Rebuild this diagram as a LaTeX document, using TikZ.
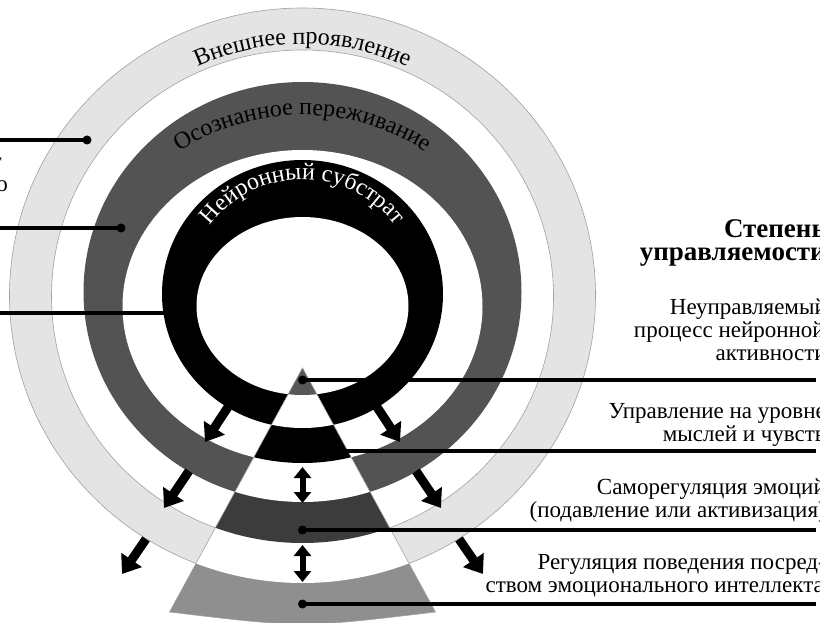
\documentclass[tikz,border=0pt]{standalone}
\usepackage{fontspec}
\setmainfont{Liberation Serif}
\usetikzlibrary{arrows.meta,decorations.text}
\definecolor{lightring}{HTML}{E4E4E4}
\definecolor{ringedge}{HTML}{A0A0A0}
\definecolor{darkring}{HTML}{535353}
\definecolor{wedgedark}{HTML}{3C3C3C}
\definecolor{wedgemid}{HTML}{8F8F8F}
\definecolor{apexgray}{HTML}{585858}
\newcommand{\ringfnt}{\fontsize{24}{24}\selectfont}
\begin{document}
\begin{tikzpicture}[x=1pt,y=1pt,
  leader/.style={line width=3.2pt},
  dotmark/.style={circle,fill=black,inner sep=0pt,minimum size=9pt},
  rlabel/.style={anchor=base east,inner sep=0pt,font=\fontsize{23}{23}\selectfont},
  blabel/.style={anchor=base east,inner sep=0pt,font=\fontsize{27}{27}\selectfont\bfseries},
  outarrow/.style={line width=9pt,-{Triangle[width=24pt,length=17pt]}},
  twoarrow/.style={line width=6pt,{Triangle[width=17pt,length=11pt]}-{Triangle[width=17pt,length=11pt]}},
  ringtext/.style={decorate,decoration={text along path,text align=center,text={#1}}}
]
\useasboundingbox (0,0) rectangle (820,-623);
\coordinate (C) at (302.5,-296);
\coordinate (C2) at (302.5,-340);

% rings
\path[fill=lightring,draw=ringedge,line width=0.6pt] (302.5,-295.5) ellipse[x radius=293,y radius=287.5];
\path[fill=white,draw=ringedge,line width=0.6pt] (302.5,-296.5) ellipse[x radius=251,y radius=246.5];
\fill[darkring] (302.5,-292) ellipse[x radius=219,y radius=210];
\fill[white] (302.5,-306.5) ellipse[x radius=180,y radius=156.5];
\fill[black] (302.5,-294) ellipse[x radius=140.5,y radius=134];
\fill[white] (302.5,-306) ellipse[x radius=106,y radius=89];

% wedge
\coordinate (apex) at (302.5,-368);
\coordinate (wl) at (169.5,-612);
\coordinate (wr) at (435.5,-612);
\begin{scope}
\clip (apex) -- (wl) .. controls (302.5,-628) .. (wr) -- cycle;
\fill[wedgemid] (0,0) rectangle (820,-623);
\fill[white] (302.5,-295.5) ellipse[x radius=293,y radius=287.5];
\fill[wedgedark] (302.5,-296.5) ellipse[x radius=251,y radius=246.5];
\fill[white] (302.5,-292) ellipse[x radius=219,y radius=210];
\fill[black] (302.5,-306.5) ellipse[x radius=180,y radius=156.5];
\fill[white] (302.5,-294) ellipse[x radius=140.5,y radius=134];
\fill[apexgray] (302.5,-306) ellipse[x radius=106,y radius=89];
\end{scope}
\draw[ringedge,line width=0.5pt] (apex) -- (wl) .. controls (302.5,-628) .. (wr) -- cycle;

% ring texts
\path[ringtext={|\ringfnt|Внешнее проявление}] ([shift={(160:252)}]C) arc[start angle=160,end angle=20,radius=252];
\path[ringtext={|\ringfnt|Осознанное переживание}] ([shift={(160:225)}]C2) arc[start angle=160,end angle=20,radius=225];
\path[ringtext={|\color{white}\ringfnt|Нейронный субстрат}] ([shift={(170:116.5)}]C) arc[start angle=170,end angle=10,radius=116.5];

% outward arrows
\coordinate (a1s) at (230,-404); \coordinate (a1e) at (205,-442);
\coordinate (a2s) at (375,-404); \coordinate (a2e) at (400,-442);
\coordinate (a3s) at (189,-471); \coordinate (a3e) at (164,-508);
\coordinate (a4s) at (416,-471); \coordinate (a4e) at (441,-508);
\coordinate (a5s) at (146,-539); \coordinate (a5e) at (122,-574);
\coordinate (a6s) at (459,-539); \coordinate (a6e) at (483,-574);
\draw[outarrow] (a1s) -- (a1e);
\draw[outarrow] (a2s) -- (a2e);
\draw[outarrow] (a3s) -- (a3e);
\draw[outarrow] (a4s) -- (a4e);
\draw[outarrow] (a5s) -- (a5e);
\draw[outarrow] (a6s) -- (a6e);

% double arrows
\coordinate (b1t) at (302.5,-467); \coordinate (b1b) at (302.5,-503);
\coordinate (b2t) at (302.5,-545); \coordinate (b2b) at (302.5,-582);
\draw[twoarrow] (b1t) -- (b1b);
\draw[twoarrow] (b2t) -- (b2b);

% left leaders
\coordinate (l1) at (0,-140); \node[dotmark] (d1) at (87,-140) {};
\coordinate (l2) at (0,-228); \node[dotmark] (d2) at (121,-228) {};
\coordinate (l3) at (0,-313); \node[dotmark] (d3) at (180,-313) {};
\draw[leader] (l1) -- (d1.center);
\draw[leader] (l2) -- (d2.center);
\draw[leader] (l3) -- (d3.center);

% right leaders
\coordinate (r1) at (816,-380); \node[dotmark] (e1) at (302.5,-380) {};
\coordinate (r2) at (816,-451); \node[dotmark] (e2) at (302.5,-451) {};
\coordinate (r3) at (816,-530); \node[dotmark] (e3) at (302.5,-530) {};
\coordinate (r4) at (816,-604); \node[dotmark] (e4) at (302.5,-604) {};
\draw[leader] (e1.center) -- (r1);
\draw[leader] (e2.center) -- (r2);
\draw[leader] (e3.center) -- (r3);
\draw[leader] (e4.center) -- (r4);

% left fragments
\node[rlabel] (f1) at (2,-169) {т};
\node[rlabel] (f2) at (8,-192) {о};

% right labels
\node[blabel] (h1) at (826,-237) {Степень};
\node[blabel] (h2) at (826,-261) {управляемости};
\node[rlabel] (t1) at (827,-314) {Неуправляемый};
\node[rlabel] (t2) at (825,-337) {процесс нейронной};
\node[rlabel] (t3) at (827,-360) {активности};
\node[rlabel] (t4) at (826,-418) {Управление на уровне};
\node[rlabel] (t5) at (826,-441) {мыслей и чувств};
\node[rlabel] (t6) at (826,-494) {Саморегуляция эмоций};
\node[rlabel] (t7) at (826,-517) {(подавление или активизация)};
\node[rlabel] (t8) at (826,-569) {Регуляция поведения посред-};
\node[rlabel] (t9) at (824,-592) {ством эмоционального интеллекта};
\end{tikzpicture}
\end{document}
